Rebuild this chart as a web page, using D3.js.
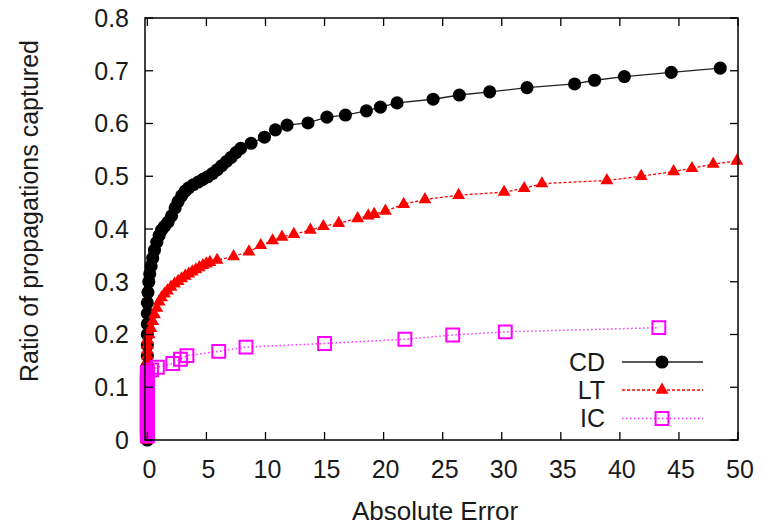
<!DOCTYPE html>
<html>
<head>
<meta charset="utf-8">
<script src="https://cdn.jsdelivr.net/npm/d3@7"></script>
<style>
  html, body { margin: 0; padding: 0; background: #fff; }
  svg { display: block; font-family: "Liberation Sans", Arial, sans-serif; }
</style>
</head>
<body>
<svg id="chart" width="764" height="525"></svg>
<script>
// ---- Data ----
const seriesNames = ["CD", "LT", "IC"];

// CD: stack of points at zero error, then the rising curve
const cdZeroY = [0, 0.02, 0.04, 0.06, 0.08, 0.10, 0.12, 0.14, 0.16, 0.18, 0.20, 0.22, 0.24, 0.26];
const cdX = [0.05, 0.12, 0.2, 0.32, 0.45, 0.6, 0.8, 1.0, 1.2, 1.45, 1.75, 2.05, 2.35, 2.6, 2.9, 3.2, 3.5, 3.9, 4.3, 4.7, 5.1, 5.5, 5.9, 6.3, 6.7, 7.1, 7.5, 7.9,
             8.78, 9.91, 10.84, 11.83, 13.6, 15.2, 16.77, 18.54, 19.73, 21.14, 24.19, 26.41, 28.98, 32.14, 36.17, 37.86, 40.38, 44.35, 48.5];
const cdY = [0.28, 0.30, 0.315, 0.33, 0.345, 0.36, 0.375, 0.388, 0.398, 0.405, 0.413, 0.425, 0.44, 0.452, 0.463, 0.472, 0.478, 0.484, 0.489, 0.494, 0.499, 0.505, 0.512, 0.52, 0.528, 0.536, 0.545, 0.553,
             0.5625, 0.574, 0.588, 0.597, 0.601, 0.612, 0.616, 0.624, 0.631, 0.639, 0.646, 0.654, 0.660, 0.668, 0.675, 0.682, 0.689, 0.697, 0.705];

// LT
const ltZeroY = [0, 0.01, 0.02, 0.03, 0.04, 0.05, 0.06, 0.07, 0.08, 0.09, 0.10, 0.11, 0.12, 0.13, 0.14, 0.15, 0.16, 0.17, 0.18, 0.19];
const ltX = [0.15, 0.3, 0.45, 0.6, 0.8, 1.0, 1.2, 1.45, 1.7, 2.0, 2.3, 2.6, 2.9, 3.2, 3.5, 3.8, 4.1, 4.4, 4.7, 5.0, 5.3, 5.9,
             7.3, 8.6, 9.6, 10.6, 11.4, 12.4, 13.8, 14.9, 16.2, 17.8, 18.7, 19.2, 20.15, 21.7, 23.5, 26.35, 30.2, 31.9, 33.4, 38.9, 41.8, 44.55, 46.1, 47.9, 49.9];
const ltY = [0.20, 0.212, 0.225, 0.238, 0.25, 0.262, 0.27, 0.277, 0.283, 0.29, 0.296, 0.301, 0.306, 0.311, 0.315, 0.319, 0.323, 0.327, 0.331, 0.334, 0.337, 0.341,
             0.348, 0.357, 0.369, 0.378, 0.385, 0.39, 0.398, 0.405, 0.411, 0.42, 0.425, 0.428, 0.434, 0.447, 0.456, 0.464, 0.470, 0.477, 0.486, 0.492, 0.500, 0.509, 0.515, 0.523, 0.529];

// IC
const icZeroY = [0.008, 0.011, 0.014, 0.017, 0.020, 0.023, 0.026, 0.029, 0.032, 0.035, 0.038, 0.041, 0.044, 0.047, 0.050, 0.053,
                 0.056, 0.059, 0.062, 0.065, 0.068, 0.071, 0.074, 0.077, 0.080, 0.083, 0.086, 0.089, 0.092, 0.095, 0.098, 0.101,
                 0.104, 0.107, 0.110, 0.113, 0.116, 0.119, 0.122, 0.125, 0.128];
const icX = [0.35, 0.85, 2.15, 2.8, 3.35, 6.04, 8.35, 15.0, 21.8, 25.85, 30.3, 43.3];
const icY = [0.133, 0.138, 0.145, 0.153, 0.160, 0.168, 0.176, 0.183, 0.191, 0.199, 0.205, 0.213];

const xTicks = [0, 5, 10, 15, 20, 25, 30, 35, 40, 45, 50];
const yTicks = [0, 0.1, 0.2, 0.3, 0.4, 0.5, 0.6, 0.7, 0.8];
const xLabel = "Absolute Error";
const yLabel = "Ratio of propagations captured";

// ---- Build point lists ----
function build(zeroY, xv, yv) {
  const pts = zeroY.map(v => ({x: 0, y: v}));
  xv.forEach((v, i) => pts.push({x: v, y: yv[i]}));
  return pts;
}
const cd = build(cdZeroY, cdX, cdY);
const lt = build(ltZeroY, ltX, ltY);
const ic = build(icZeroY, icX, icY);

// ---- Layout ----
const svg = d3.select("#chart");
const mLeft = 145, mRight = 738, mTop = 18, mBottom = 440;
const xs = d3.scaleLinear().domain([-0.2, 50]).range([mLeft, mRight]);
const ys = d3.scaleLinear().domain([0, 0.8]).range([mBottom, mTop]);

const styles = {
  CD: {color: "#000000", dash: null, lineColor: "#222", lw: 1.3},
  LT: {color: "#ff0000", dash: "3,2", lineColor: "#ff0000", lw: 1.3},
  IC: {color: "#ff00ff", dash: "1.5,2.5", lineColor: "#ff33ff", lw: 1.5}
};

const line = d3.line().x(d => xs(d.x)).y(d => ys(d.y));
const circleSym = d3.symbol().type(d3.symbolCircle).size(135);
const triSym = d3.symbol().type(d3.symbolTriangle).size(72);
const sqSym = d3.symbol().type(d3.symbolSquare).size(165);

function drawSeries(data, name, sym, hollow) {
  const st = styles[name];
  const g = svg.append("g");
  g.append("path").datum(data)
    .attr("d", line).attr("fill", "none")
    .attr("stroke", st.lineColor).attr("stroke-width", st.lw)
    .attr("stroke-dasharray", st.dash);
  g.selectAll("path.m").data(data).enter().append("path")
    .attr("class", "m")
    .attr("transform", d => `translate(${xs(d.x)},${ys(d.y)})`)
    .attr("d", sym())
    .attr("fill", hollow ? "none" : st.color)
    .attr("stroke", hollow ? st.color : "none")
    .attr("stroke-width", hollow ? 2 : 0);
}

drawSeries(cd, "CD", circleSym, false);
drawSeries(lt, "LT", triSym, false);
drawSeries(ic, "IC", sqSym, true);

// ---- Axes (mirrored inward ticks) ----
const tickLen = 8;
const axG = svg.append("g").attr("stroke", "#000").attr("stroke-width", 1.3);
xTicks.forEach(t => {
  axG.append("line").attr("x1", xs(t)).attr("x2", xs(t)).attr("y1", mBottom).attr("y2", mBottom - tickLen);
  axG.append("line").attr("x1", xs(t)).attr("x2", xs(t)).attr("y1", mTop).attr("y2", mTop + tickLen);
});
yTicks.forEach(t => {
  axG.append("line").attr("x1", mLeft).attr("x2", mLeft + tickLen).attr("y1", ys(t)).attr("y2", ys(t));
  axG.append("line").attr("x1", mRight).attr("x2", mRight - tickLen).attr("y1", ys(t)).attr("y2", ys(t));
});
svg.append("rect").attr("x", mLeft).attr("y", mTop).attr("width", mRight - mLeft).attr("height", mBottom - mTop)
  .attr("fill", "none").attr("stroke", "#000").attr("stroke-width", 1.5);

svg.append("g").selectAll("text").data(xTicks).enter().append("text")
  .attr("x", d => xs(d) + 2).attr("y", 478)
  .attr("text-anchor", "middle").attr("font-size", 25).attr("fill", "#1a1a1a")
  .text(d => d);
svg.append("g").selectAll("text").data(yTicks).enter().append("text")
  .attr("x", 129).attr("y", d => ys(d)).attr("dy", "0.35em")
  .attr("text-anchor", "end").attr("font-size", 25).attr("fill", "#1a1a1a")
  .text(d => d === 0 ? "0" : d3.format(".1f")(d));

svg.append("text").attr("x", 435).attr("y", 520).attr("text-anchor", "middle")
  .attr("font-size", 26).attr("fill", "#1a1a1a").text(xLabel);
svg.append("text").attr("transform", "translate(38,211) rotate(-90)").attr("text-anchor", "middle")
  .attr("font-size", 25).attr("fill", "#1a1a1a").text(yLabel);

// ---- Legend ----
const legRows = [
  {name: "CD", sym: circleSym, hollow: false, yy: 362},
  {name: "LT", sym: triSym, hollow: false, yy: 390},
  {name: "IC", sym: sqSym, hollow: true, yy: 418.5}
];
const lg = svg.append("g");
legRows.forEach(r => {
  const st = styles[r.name];
  lg.append("text").attr("x", 605).attr("y", r.yy + 8.7).attr("text-anchor", "end")
    .attr("font-size", 25).attr("fill", "#1a1a1a").text(r.name);
  lg.append("line").attr("x1", 622).attr("x2", 703).attr("y1", r.yy).attr("y2", r.yy)
    .attr("stroke", st.lineColor).attr("stroke-width", st.lw).attr("stroke-dasharray", st.dash);
  lg.append("path").attr("transform", `translate(662,${r.yy})`).attr("d", r.sym())
    .attr("fill", r.hollow ? "none" : st.color)
    .attr("stroke", r.hollow ? st.color : "none").attr("stroke-width", r.hollow ? 2 : 0);
});
</script>
</body>
</html>
